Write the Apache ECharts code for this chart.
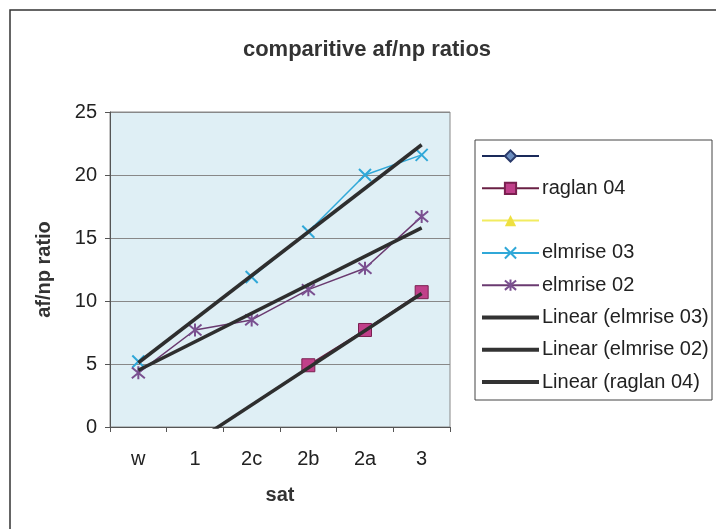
<!DOCTYPE html>
<html>
<head>
<meta charset="utf-8">
<script src="https://cdn.jsdelivr.net/npm/echarts@6/dist/echarts.min.js"></script>
<style>
  html, body { margin: 0; padding: 0; background: #fff; }
  #main { width: 716px; height: 529px; }
</style>
</head>
<body>
<div id="main"></div>
<script>
// data
var categories = ['w', '1', '2c', '2b', '2a', '3'];
var blankDiamond = [null, null, null, null, null, null];
var raglan04 = [null, null, null, 4.9, 7.7, 10.7];
var blankTriangle = [null, null, null, null, null, null];
var elmrise03 = [5.2, null, 11.9, 15.5, 20.0, 21.6];
var elmrise02 = [4.3, 7.7, 8.5, 10.9, 12.6, 16.7];
// trend lines, end points only
var linElmrise03 = [5.1, null, null, null, null, 22.4];
var linElmrise02 = [4.5, null, null, null, null, 15.8];
var linRaglan04 = [null, -1.2, null, null, null, 10.6];

var crossPath = 'path://M0,0L10,10M10,0L0,10';
var starPath = 'path://M0,0L10,10M10,0L0,10M5,-1L5,11';

var myChart = echarts.init(document.getElementById('main'));

function trend(name, data) {
  return {
    name: name,
    type: 'line',
    data: data,
    connectNulls: true,
    symbol: 'none',
    z: 5,
    lineStyle: { color: '#2e2e2e', width: 3.5 },
    itemStyle: { color: '#2e2e2e' }
  };
}

function trendLegend(name) {
  return { name: name, itemStyle: { opacity: 0 }, lineStyle: { width: 4, color: '#333' } };
}

var option = {
  animation: false,
  textStyle: { fontFamily: 'Liberation Sans, Arial, sans-serif' },
  title: {
    text: 'comparitive af/np ratios',
    left: 362,
    textAlign: 'center',
    top: 34,
    textStyle: { fontSize: 22, fontWeight: 'bold', color: '#333' }
  },
  graphic: [
    { type: 'rect', shape: { x: 10, y: 10, width: 720, height: 530 },
      style: { fill: 'none', stroke: '#333', lineWidth: 1.5 }, z: -10 },
    { type: 'rect', shape: { x: 475, y: 140, width: 237, height: 260 },
      style: { fill: '#fff', stroke: '#444', lineWidth: 1 }, z: -5 }
  ],
  grid: {
    left: 110, right: 266, top: 112, bottom: 102,
    show: true,
    backgroundColor: '#dfeff5',
    borderColor: '#888',
    borderWidth: 1
  },
  legend: {
    orient: 'vertical',
    left: 480,
    top: 146,
    padding: 0,
    itemWidth: 57,
    itemHeight: 14,
    itemGap: 12.3,
    textStyle: { fontSize: 20, color: '#222', padding: [0, 0, 0, -2] },
    data: [' ', 'raglan 04', '  ', 'elmrise 03', 'elmrise 02',
      trendLegend('Linear (elmrise 03)'), trendLegend('Linear (elmrise 02)'),
      trendLegend('Linear (raglan 04)')]
  },
  xAxis: {
    type: 'category',
    data: categories,
    name: 'sat',
    nameLocation: 'middle',
    nameGap: 58,
    nameTextStyle: { fontSize: 20, fontWeight: 'bold', color: '#333' },
    axisLine: { lineStyle: { color: '#555' } },
    axisTick: { show: true, length: 5, lineStyle: { color: '#555' } },
    axisLabel: { fontSize: 20, color: '#222', margin: 22 }
  },
  yAxis: {
    type: 'value',
    min: 0,
    max: 25,
    interval: 5,
    name: 'af/np ratio',
    nameLocation: 'middle',
    nameGap: 56,
    nameTextStyle: { fontSize: 20, fontWeight: 'bold', color: '#333' },
    axisLine: { show: true, lineStyle: { color: '#555' } },
    axisTick: { show: true, length: 5, lineStyle: { color: '#555' } },
    axisLabel: { fontSize: 20, color: '#222', margin: 13 },
    splitLine: { lineStyle: { color: '#888', width: 1 } }
  },
  series: [
    {
      name: ' ', type: 'line', data: blankDiamond,
      symbol: 'diamond', symbolSize: 12,
      lineStyle: { color: '#1a2a5a', width: 1.5 },
      itemStyle: { color: '#6c8ebf', borderColor: '#2a3a6a', borderWidth: 1 }
    },
    {
      name: 'raglan 04', type: 'line', data: raglan04,
      symbol: 'rect', symbolSize: 13,
      lineStyle: { color: '#6a2044', width: 1.5 },
      itemStyle: { color: '#c0408a', borderColor: '#7a2050', borderWidth: 1 }
    },
    {
      name: '  ', type: 'line', data: blankTriangle,
      symbol: 'triangle', symbolSize: 12,
      lineStyle: { color: '#f2ec60', width: 1.5 },
      itemStyle: { color: '#eee040' }
    },
    {
      name: 'elmrise 03', type: 'line', data: elmrise03,
      symbol: crossPath, symbolSize: 12,
      lineStyle: { color: '#30a8d8', width: 1.5 },
      itemStyle: { color: 'none', borderColor: '#30a8d8', borderWidth: 2 }
    },
    {
      name: 'elmrise 02', type: 'line', data: elmrise02,
      symbol: starPath, symbolSize: 13,
      lineStyle: { color: '#6a3a70', width: 1.5 },
      itemStyle: { color: 'none', borderColor: '#7a5090', borderWidth: 2 }
    },
    trend('Linear (elmrise 03)', linElmrise03),
    trend('Linear (elmrise 02)', linElmrise02),
    trend('Linear (raglan 04)', linRaglan04)
  ]
};

myChart.setOption(option);
</script>
</body>
</html>
